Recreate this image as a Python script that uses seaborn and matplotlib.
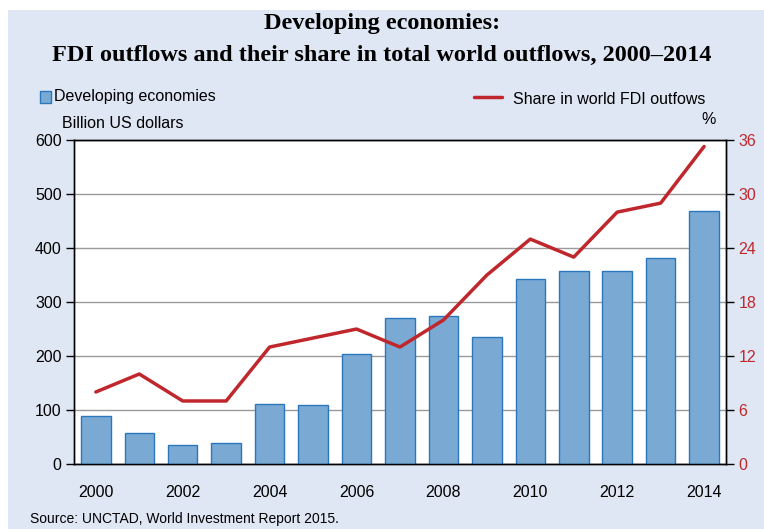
import numpy as np
import pandas as pd
import seaborn as sns
import matplotlib.pyplot as plt
from matplotlib.patches import Rectangle
from matplotlib.lines import Line2D

# data
years = list(range(2000, 2015))
outflows = [88, 57, 36, 39, 112, 109, 203, 270, 275, 235, 342, 358, 358, 382, 469]
share = [8.0, 10.0, 7.0, 7.0, 13.0, 14.0, 15.0, 13.0, 16.0, 21.0, 25.0, 23.0, 28.0, 29.0, 35.3]

df = pd.DataFrame({"year": years, "outflows": outflows, "share": share})

bg = "#dfe7f4"
bar_col = "#7aaad4"
bar_edge = "#2b77bd"
line_col = "#c0272d"

sns.set_style("white")
plt.rcParams['font.family'] = ['Liberation Sans', 'DejaVu Sans']
plt.rcParams['text.color'] = 'black'
plt.rcParams['xtick.color'] = 'black'
plt.rcParams['ytick.color'] = 'black'

fig = plt.figure(figsize=(7.64, 5.29), dpi=100)
fig.patch.set_facecolor("white")
fig.patches.append(Rectangle((8 / 764, 0), 1, 1 - 10 / 529, transform=fig.transFigure,
                             facecolor=bg, edgecolor="none", zorder=-10))

ax = fig.add_axes([0.097, 0.123, 0.853, 0.612])
ax.set_facecolor("white")

sns.barplot(data=df, x="year", y="outflows", color=bar_col, edgecolor=bar_edge,
            linewidth=1, width=0.68, saturation=1, ax=ax, zorder=3)

ax.set_ylim(0, 600)
ax.set_yticks(range(0, 601, 100))
ax.set_xlim(-0.5, len(years) - 0.5)
ax.grid(axis="y", color="#9a9a9a", linewidth=1, zorder=0)
ax.set_axisbelow(True)

# tick marks between bars, labels every other year
ax.set_xticks(np.arange(-0.5, len(years), 1), minor=False)
ax.set_xticklabels([])
ax.set_xticks(np.arange(0, len(years), 2), minor=True)
ax.set_xticklabels([str(y) for y in years[::2]], minor=True)
ax.tick_params(axis="x", which="major", length=6, width=1, color="black", direction="out")
ax.tick_params(axis="x", which="minor", length=0, labelsize=11.5, pad=15)
ax.tick_params(axis="y", length=6, width=1, color="black", labelsize=11.5, direction="out", pad=3)
ax.set_xlabel("")
ax.set_ylabel("")
for s in ax.spines.values():
    s.set_color("black")
    s.set_linewidth(1)

ax2 = ax.twinx()
sns.lineplot(x=np.arange(len(years)), y=share, color=line_col, linewidth=2.5, ax=ax2, zorder=5)
ax2.set_ylim(0, 36)
ax2.set_yticks(range(0, 37, 6))
ax2.tick_params(axis="y", length=6, width=1, color="black", labelsize=11.5,
                labelcolor=line_col, direction="out", pad=3)
ax2.set_ylabel("")
for s in ax2.spines.values():
    s.set_color("black")
    s.set_linewidth(1)

# titles
fig.text(0.5, 1 - 24 / 529, "Developing economies:", ha="center", va="center",
         family="Liberation Serif", fontweight="bold", fontsize=17.5)
fig.text(0.5, 1 - 55 / 529, "FDI outflows and their share in total world outflows, 2000\u20132014",
         ha="center", va="center", family="Liberation Serif", fontweight="bold", fontsize=17.5)

# legends as text
fig.patches.append(Rectangle((40 / 764, 1 - 103 / 529), 11 / 764, 12 / 529, transform=fig.transFigure,
                             facecolor=bar_col, edgecolor=bar_edge, linewidth=1))
fig.text(54 / 764, 1 - 97 / 529, "Developing economies", ha="left", va="center", fontsize=11.5)
fig.lines.append(Line2D([474 / 764, 502 / 764], [1 - 97 / 529, 1 - 97 / 529], transform=fig.transFigure,
                        color=line_col, linewidth=2.5))
fig.text(513 / 764, 1 - 100 / 529, "Share in world FDI outfows", ha="left", va="center", fontsize=11.5)
fig.text(62 / 764, 1 - 124 / 529, "Billion US dollars", ha="left", va="center", fontsize=11.5)
fig.text(716 / 764, 1 - 120 / 529, "%", ha="right", va="center", fontsize=11.5)

fig.text(30 / 764, 1 - 519 / 529, "Source: UNCTAD, World Investment Report 2015.",
         ha="left", va="center", fontsize=10)

fig.savefig("out.png", dpi=100, facecolor=fig.get_facecolor())
